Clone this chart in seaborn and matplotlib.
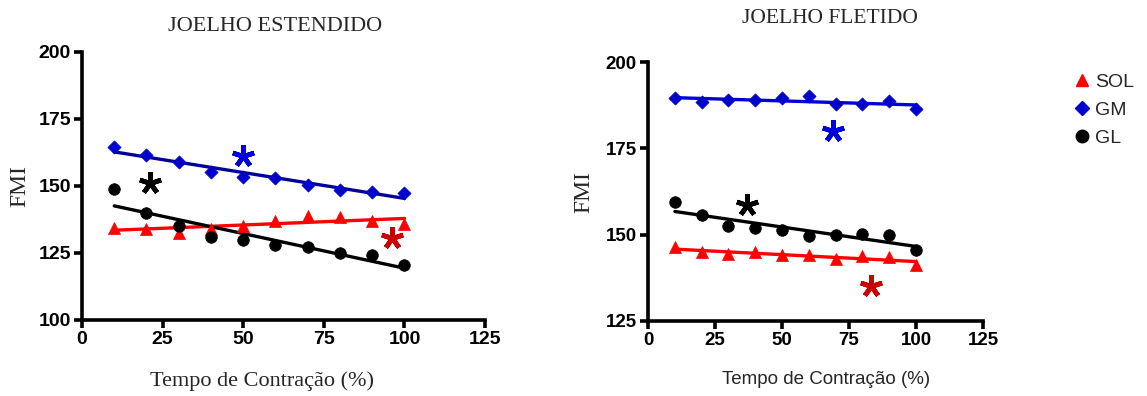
import numpy as np
import pandas as pd
import matplotlib
matplotlib.use("Agg")
import matplotlib.pyplot as plt
import seaborn as sns
from matplotlib.lines import Line2D

# ---------------- data ----------------
tempo = [10, 20, 30, 40, 50, 60, 70, 80, 90, 100]

# Joelho estendido
est_sol = [134.3, 134.0, 132.4, 134.0, 135.2, 136.8, 138.9, 138.4, 137.0, 135.8]
est_gm = [164.5, 161.7, 158.9, 155.1, 153.2, 152.9, 150.5, 148.6, 147.6, 147.4]
est_gl = [148.9, 139.9, 134.9, 130.8, 130.0, 127.8, 127.2, 125.0, 124.3, 120.6]

# Joelho fletido
fle_sol = [146.4, 145.0, 144.3, 145.0, 144.0, 144.0, 143.0, 143.7, 143.4, 141.3]
fle_gm = [189.7, 188.4, 188.9, 189.1, 189.6, 190.2, 187.7, 187.7, 188.6, 186.3]
fle_gl = [159.6, 155.8, 152.5, 151.8, 151.4, 149.6, 150.0, 150.3, 150.0, 145.5]

# significance asterisks (x, y)
est_star_gm = (50, 161.0)
est_star_gl = (21, 151.0)
est_star_sol = (96, 130.5)
fle_star_gm = (69, 180.0)
fle_star_gl = (37, 158.5)
fle_star_sol = (83, 135.0)

series_names = ["SOL", "GM", "GL"]
x_ticks = [0, 25, 50, 75, 100, 125]
est_yticks = [100, 125, 150, 175, 200]
fle_yticks = [125, 150, 175, 200]

# ---------------- style ----------------
sns.set_style("ticks")
plt.rcParams["font.family"] = ["Liberation Sans", "DejaVu Sans"]
plt.rcParams["axes.edgecolor"] = "black"
plt.rcParams["xtick.color"] = "black"
plt.rcParams["ytick.color"] = "black"

RED = "#FF0000"
BLUE_MK = "#0000CC"
NAVY = "#000099"
BLUE_LN = "#0000DD"
BLACK = "#000000"
STAR_RED = "#CC0000"
STAR_BLUE = "#0000DD"

serif = ["Liberation Serif", "DejaVu Serif"]
sans = ["Liberation Sans", "DejaVu Sans"]

fig = plt.figure(figsize=(11.47, 3.96), dpi=100)
ax1 = fig.add_axes([0.0715, 0.192, 0.3514, 0.6768])
ax2 = fig.add_axes([0.565, 0.1894, 0.2921, 0.654])

def draw(ax, sol, gm, gl, gm_line, stars, ticksize):
    df = pd.DataFrame({"x": tempo, "SOL": sol, "GM": gm, "GL": gl})
    specs = [("SOL", RED, RED, "^", 75),
             ("GM", BLUE_MK, gm_line, "D", 45),
             ("GL", BLACK, BLACK, "o", 70)]
    for name, mc, lc, mk, s in specs:
        sns.regplot(data=df, x="x", y=name, ax=ax, ci=None, scatter=False,
                    truncate=True, line_kws=dict(color=lc, lw=2.4, zorder=2))
        sns.scatterplot(data=df, x="x", y=name, ax=ax, marker=mk, s=s,
                        color=mc, edgecolor=mc, linewidth=0.5, zorder=3)
    (gmx, gmy), (glx, gly), (solx, soly) = stars
    for (sx, sy), c in [((gmx, gmy), STAR_BLUE), ((glx, gly), BLACK),
                        ((solx, soly), STAR_RED)]:
        ax.plot([sx], [sy], marker=(5, 2, 0), ms=16, mew=3.4, color=c,
                linestyle="none", zorder=4)
    sns.despine(ax=ax)
    for sp in ("left", "bottom"):
        ax.spines[sp].set_linewidth(2.6)
    ax.tick_params(width=2.6, length=6, pad=2)
    ax.set_xlim(0, 125)
    ax.set_xticks(x_ticks)
    ax.set_xticklabels([str(v) for v in x_ticks], family=sans,
                       fontsize=ticksize, fontweight="bold")

draw(ax1, est_sol, est_gm, est_gl, NAVY,
     [est_star_gm, est_star_gl, est_star_sol], 14)
ax1.set_ylim(100, 200)
ax1.set_yticks(est_yticks)
ax1.set_yticklabels([str(v) for v in est_yticks], family=sans,
                    fontsize=14, fontweight="bold")

draw(ax2, fle_sol, fle_gm, fle_gl, BLUE_LN,
     [fle_star_gm, fle_star_gl, fle_star_sol], 13.5)
ax2.set_ylim(125, 200)
ax2.set_yticks(fle_yticks)
ax2.set_yticklabels([str(v) for v in fle_yticks], family=sans,
                    fontsize=13.5, fontweight="bold")

ax1.set_title("JOELHO ESTENDIDO", family=serif, fontsize=16, x=0.479, pad=15)
ax1.set_xlabel("Tempo de Contração (%)", family=serif, fontsize=16)
ax1.xaxis.set_label_coords(0.447, -0.19)
ax1.set_ylabel("FMI", family=serif, fontsize=17, labelpad=6)
ax2.set_title("JOELHO FLETIDO", family=serif, fontsize=15.5, x=0.543, pad=28)
ax2.set_xlabel("Tempo de Contração (%)", family=sans, fontsize=13.5)
ax2.xaxis.set_label_coords(0.53, -0.195)
ax2.set_ylabel("FMI", family=serif, fontsize=17, labelpad=8)

handles = [Line2D([], [], marker="^", color=RED, linestyle="none", ms=9),
           Line2D([], [], marker="D", color=BLUE_MK, linestyle="none", ms=7),
           Line2D([], [], marker="o", color=BLACK, linestyle="none", ms=9)]
fig.legend(handles, series_names, loc="upper left",
           bbox_to_anchor=(0.92, 0.86), frameon=False,
           prop=dict(family=sans, size=14),
           handletextpad=0.15, labelspacing=0.55, handlelength=1.0)

fig.savefig("out.png", dpi=100)
